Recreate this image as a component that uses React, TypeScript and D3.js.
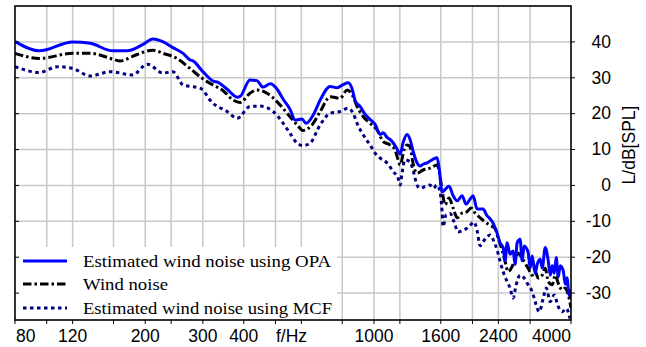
import React, { useEffect, useRef } from "react";
import * as d3 from "d3";

// Axis values
const xGridValues = [80, 100, 120, 160, 200, 240, 300, 400, 500, 600, 800, 1000, 1200, 1600, 2000, 2400, 3000, 4000];
const xTickLabels = [80, 120, 200, 300, 400, 1000, 1600, 2400, 4000];
const yTickValues = [-30, -20, -10, 0, 10, 20, 30, 40];

// Estimated wind noise using OPA
const opaFreq = [80, 95, 120, 136, 159, 176, 197, 211, 227, 243, 261, 274, 280, 300, 322, 334, 356, 382, 390, 418, 439, 458, 482, 506, 528, 554, 574, 603, 620, 652, 685, 735, 772, 805, 834, 858, 876, 907, 940, 973, 1008, 1045, 1067, 1098, 1120, 1144, 1177, 1202, 1227, 1262, 1289, 1316, 1354, 1383, 1413, 1453, 1484, 1516, 1559, 1581, 1615, 1696, 1746, 1795, 1859, 1912, 1967, 2009, 2066, 2155, 2217, 2264, 2312, 2378, 2429, 2481, 2516, 2552, 2606, 2662, 2700, 2738, 2796, 2836, 2876, 2959, 3001, 3044, 3109, 3153, 3221, 3267, 3337, 3408, 3456, 3505, 3555, 3605, 3657, 3709, 3788, 3842, 3896, 3924, 3972, 4000];
const opaLevel = [40.1, 37.5, 40.0, 39.6, 37.5, 37.5, 39.3, 40.8, 40.0, 38.4, 36.8, 35.0, 34.7, 31.7, 29.1, 28.7, 26.8, 24.6, 24.8, 29.4, 29.2, 27.4, 28.3, 26.8, 24.0, 21.2, 18.2, 18.5, 17.3, 19.6, 23.8, 27.6, 27.2, 28.1, 28.6, 26.8, 23.6, 22.0, 19.8, 18.4, 17.0, 14.2, 14.7, 13.3, 12.8, 11.9, 10.1, 8.7, 11.9, 14.2, 12.8, 9.6, 6.3, 5.4, 5.9, 6.3, 6.8, 7.3, 7.7, 4.9, -1.8, -0.2, -2.9, -4.3, -2.9, -5.2, -3.8, -2.9, -6.6, -6.6, -8.5, -9.3, -10.5, -13.3, -16.0, -17.3, -21.0, -16.0, -19.2, -18.3, -22.0, -16.0, -15.0, -21.0, -16.9, -18.7, -23.0, -19.7, -24.5, -22.0, -20.6, -23.0, -17.3, -21.0, -25.0, -22.4, -24.5, -20.1, -25.5, -22.4, -23.8, -27.5, -25.7, -29.0, -31.0, -28.9];

// Wind noise
const windFreq = [80, 95, 120, 136, 159, 167, 189, 211, 227, 250, 274, 300, 322, 346, 371, 390, 418, 439, 471, 506, 543, 582, 607, 652, 685, 735, 788, 828, 858, 888, 927, 973, 1022, 1067, 1120, 1160, 1185, 1202, 1236, 1262, 1289, 1316, 1354, 1413, 1484, 1559, 1592, 1615, 1649, 1696, 1746, 1795, 1859, 1926, 1981, 2037, 2110, 2186, 2264, 2345, 2395, 2463, 2516, 2570, 2643, 2700, 2757, 2836, 2897, 2959, 3044, 3109, 3175, 3267, 3337, 3408, 3505, 3580, 3657, 3762, 3842, 3924, 4000];
const windLevel = [36.8, 35.4, 36.8, 36.8, 35.2, 34.7, 36.5, 37.7, 36.8, 35.4, 32.6, 29.7, 28.0, 26.4, 23.8, 23.1, 25.7, 26.6, 25.7, 23.3, 20.1, 16.9, 15.3, 17.3, 20.6, 24.7, 24.3, 26.6, 25.2, 22.0, 19.2, 17.3, 15.5, 12.2, 11.3, 9.9, 7.1, 5.7, 9.9, 11.3, 10.8, 6.2, 3.4, 4.3, 4.8, 5.7, 2.5, -1.3, -5.4, -3.5, -6.3, -9.0, -7.7, -7.3, -6.3, -7.7, -9.0, -10.2, -11.1, -12.0, -14.7, -18.0, -21.2, -24.0, -22.6, -20.3, -18.9, -20.3, -21.7, -23.1, -25.0, -24.0, -25.8, -25.0, -23.1, -26.8, -27.7, -25.0, -27.3, -29.1, -28.6, -30.5, -34.1];

// Estimated wind noise using MCF
const mcfFreq = [80, 95, 108, 120, 136, 156, 183, 203, 227, 243, 261, 294, 322, 356, 382, 418, 449, 492, 528, 554, 582, 607, 638, 685, 735, 788, 834, 864, 888, 927, 973, 1008, 1045, 1098, 1144, 1185, 1202, 1218, 1244, 1289, 1316, 1354, 1383, 1433, 1484, 1516, 1559, 1592, 1615, 1626, 1661, 1709, 1758, 1808, 1859, 1912, 1967, 2023, 2066, 2110, 2155, 2217, 2264, 2328, 2378, 2429, 2481, 2552, 2606, 2662, 2719, 2796, 2876, 2959, 3044, 3109, 3198, 3290, 3360, 3456, 3555, 3657, 3762, 3869, 3972];
const mcfLevel = [33.1, 31.5, 33.1, 32.6, 30.5, 31.7, 30.8, 33.8, 31.3, 31.7, 28.0, 27.1, 22.9, 20.6, 18.7, 22.0, 22.1, 20.6, 17.3, 14.5, 11.8, 11.1, 11.8, 16.9, 20.1, 20.6, 21.5, 20.1, 17.3, 14.1, 11.3, 9.0, 7.6, 6.2, 3.9, 2.0, 0.1, 3.4, 7.1, 6.6, 4.3, 0.1, -0.8, -0.3, 0.1, -0.8, 0.1, -1.8, -7.3, -11.5, -8.2, -7.8, -10.2, -13.0, -12.6, -12.1, -11.1, -10.2, -12.6, -16.8, -15.7, -14.3, -13.8, -15.7, -18.0, -21.2, -24.0, -26.8, -28.6, -31.4, -27.7, -25.0, -25.8, -27.7, -29.6, -32.4, -35.2, -31.4, -28.6, -32.4, -30.5, -33.8, -35.2, -34.3, -37.1];

const legendLabels = ["Estimated wind noise using OPA", "Wind noise", "Estimated wind noise using MCF"];

export default function App() {
  const ref = useRef<SVGSVGElement>(null);

  useEffect(() => {
    drawChart(ref.current);
  }, []);

  return (
    <svg
      ref={ref}
      width={646}
      height={347}
      style={{ position: "absolute", left: 0, top: 0, background: "#fff" }}
    />
  );
}

/** Draws the spectrum chart into the given svg. */
function drawChart(node: SVGSVGElement | null) {
  if (!node) return;
  const svg = d3.select(node);
  svg.selectAll("*").remove();

  const left = 15, right = 571, top = 6, bottom = 320;
  const sans = "'Liberation Sans', Arial, sans-serif";
  const serif = "'Liberation Serif', 'Times New Roman', serif";

  const x = d3.scaleLog().domain([80, 4000]).range([left, right]);
  const y = d3.scaleLinear().domain([-37.5, 50]).range([bottom, top]);

  // grid
  const grid = svg.append("g").attr("stroke", "#c8c8c8").attr("stroke-width", 1.5);
  grid
    .selectAll("line.gx")
    .data(xGridValues.slice(1, -1))
    .join("line")
    .attr("x1", (d) => x(d))
    .attr("x2", (d) => x(d))
    .attr("y1", top)
    .attr("y2", bottom);
  grid
    .selectAll("line.gy")
    .data(yTickValues)
    .join("line")
    .attr("x1", left)
    .attr("x2", right)
    .attr("y1", (d) => y(d))
    .attr("y2", (d) => y(d));

  // clip for the curves
  svg
    .append("clipPath")
    .attr("id", "plot-clip")
    .append("rect")
    .attr("x", left)
    .attr("y", top)
    .attr("width", right - left)
    .attr("height", bottom - top);

  const series = [
    { freq: opaFreq, level: opaLevel, color: "#0000ff", dash: null },
    { freq: windFreq, level: windLevel, color: "#000000", dash: "8.5,3,2.5,3" },
    { freq: mcfFreq, level: mcfLevel, color: "#000080", dash: "3.5,3.5" },
  ];

  const line = d3
    .line<[number, number]>()
    .x((d) => x(d[0]))
    .y((d) => y(d[1]))
    .curve(d3.curveMonotoneX);

  const curves = svg.append("g").attr("clip-path", "url(#plot-clip)");
  // draw back to front: MCF, wind, OPA
  [...series].reverse().forEach((s) => {
    curves
      .append("path")
      .attr("d", line(s.freq.map((f, i) => [f, s.level[i]] as [number, number])))
      .attr("fill", "none")
      .attr("stroke", s.color)
      .attr("stroke-width", 3)
      .attr("stroke-linejoin", "round")
      .attr("stroke-dasharray", s.dash);
  });

  // legend
  const legend = svg.append("g");
  legend
    .append("rect")
    .attr("x", left)
    .attr("y", 247)
    .attr("width", 322)
    .attr("height", bottom - 247)
    .attr("fill", "#fff");
  const rowY = [261, 284, 308];
  const textLen = [248, 85, 249];
  series.forEach((s, i) => {
    legend
      .append("line")
      .attr("x1", 23)
      .attr("x2", 67)
      .attr("y1", rowY[i])
      .attr("y2", rowY[i])
      .attr("stroke", s.color)
      .attr("stroke-width", 3)
      .attr("stroke-dasharray", s.dash);
    legend
      .append("text")
      .attr("x", 83)
      .attr("y", rowY[i] + 6)
      .attr("font-family", serif)
      .attr("font-size", 17.5)
      .attr("textLength", textLen[i])
      .attr("lengthAdjust", "spacingAndGlyphs")
      .text(legendLabels[i]);
  });

  // frame
  svg
    .append("rect")
    .attr("x", left)
    .attr("y", top)
    .attr("width", right - left)
    .attr("height", bottom - top)
    .attr("fill", "none")
    .attr("stroke", "#000")
    .attr("stroke-width", 1.6);

  // ticks
  const ticks = svg.append("g").attr("stroke", "#000").attr("stroke-width", 1);
  ticks
    .selectAll("line.bx")
    .data(xGridValues)
    .join("line")
    .attr("x1", (d) => x(d))
    .attr("x2", (d) => x(d))
    .attr("y1", bottom)
    .attr("y2", bottom + 4);
  ticks
    .selectAll("line.ry")
    .data(yTickValues)
    .join("line")
    .attr("x1", right)
    .attr("x2", right + 4)
    .attr("y1", (d) => y(d))
    .attr("y2", (d) => y(d));
  ticks
    .selectAll("line.ly")
    .data(yTickValues)
    .join("line")
    .attr("x1", left)
    .attr("x2", left + 4)
    .attr("y1", (d) => y(d))
    .attr("y2", (d) => y(d));

  // x tick labels
  svg
    .append("g")
    .selectAll("text")
    .data(xTickLabels)
    .join("text")
    .attr("x", (d) => (d === 80 ? x(d) + 1 : x(d)))
    .attr("y", 341.5)
    .attr("text-anchor", (d) => (d === 80 ? "start" : d === 4000 ? "end" : "middle"))
    .attr("font-family", sans)
    .attr("font-size", 17.5)
    .text((d) => String(d));
  svg
    .append("text")
    .attr("x", x(560))
    .attr("y", 341.5)
    .attr("text-anchor", "middle")
    .attr("font-family", sans)
    .attr("font-size", 17.5)
    .text("f/Hz");

  // y tick labels (right side)
  svg
    .append("g")
    .selectAll("text")
    .data(yTickValues)
    .join("text")
    .attr("x", 611)
    .attr("y", (d) => y(d))
    .attr("dy", "0.33em")
    .attr("text-anchor", "end")
    .attr("font-family", sans)
    .attr("font-size", 17.5)
    .text((d) => String(d));

  svg
    .append("text")
    .attr("transform", "translate(635,145) rotate(-90)")
    .attr("text-anchor", "middle")
    .attr("font-family", sans)
    .attr("font-size", 17.5)
    .text("L/dB[SPL]");
}
